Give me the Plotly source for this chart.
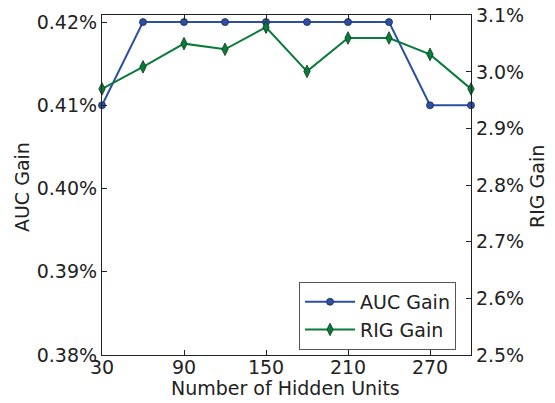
import plotly.graph_objects as go

hidden_units = [30, 60, 90, 120, 150, 180, 210, 240, 270, 300]
auc_gain = [0.41, 0.42, 0.42, 0.42, 0.42, 0.42, 0.42, 0.42, 0.41, 0.41]
rig_gain = [2.970, 3.009, 3.050, 3.040, 3.079, 3.001, 3.060, 3.060, 3.031, 2.970]

x_ticks = [30, 90, 150, 210, 270]
auc_ticks = [0.38, 0.39, 0.40, 0.41, 0.42]
auc_tick_labels = ["0.38%", "0.39%", "0.40%", "0.41%", "0.42%"]
rig_ticks = [2.5, 2.6, 2.7, 2.8, 2.9, 3.0, 3.1]
rig_tick_labels = ["2.5%", "2.6%", "2.7%", "2.8%", "2.9%", "3.0%", "3.1%"]

blue = "#2c4fa3"
green = "#0a7b3b"
font = "DejaVu Sans, Verdana, sans-serif"
fs = 19

fig = go.Figure()
fig.add_trace(go.Scatter(
    x=hidden_units, y=auc_gain, name="AUC Gain", mode="lines+markers",
    line=dict(color=blue, width=2),
    marker=dict(symbol="circle", size=7, color=blue, line=dict(color="#1a2a50", width=0.8)),
    yaxis="y", cliponaxis=False))
fig.add_trace(go.Scatter(
    x=hidden_units, y=rig_gain, name="RIG Gain", mode="lines+markers",
    line=dict(color=green, width=2),
    marker=dict(symbol="diamond-tall", size=9, color=green, line=dict(color="#0a3a1a", width=0.8)),
    yaxis="y2", cliponaxis=False))

axis_common = dict(showline=True, linecolor="#222", linewidth=1.2, ticks="inside",
                   ticklen=5, tickcolor="#222", showgrid=False, zeroline=False,
                   automargin=False, ticklabeloverflow="allow",
                   tickfont=dict(size=fs, color="#222", family=font))

# page body has an 8px margin, so the figure is sized/offset to compensate
fig.update_layout(
    width=547, height=395,
    margin=dict(l=94, r=84, t=7, b=48),
    paper_bgcolor="white", plot_bgcolor="white",
    font=dict(family=font, color="#222"),
    showlegend=True,
    legend=dict(x=0.534, y=0.215, xanchor="left", yanchor="top",
                bordercolor="#555", borderwidth=1, bgcolor="white",
                font=dict(size=fs, family=font, color="#222"),
                itemwidth=50, tracegroupgap=2),
    xaxis=dict(range=[30, 300], tickmode="array", tickvals=x_ticks, mirror="ticks",
               ticklabelstandoff=-5, **axis_common),
    yaxis=dict(range=[0.38, 0.42085], tickmode="array", tickvals=auc_ticks, ticktext=auc_tick_labels,
               **axis_common),
    yaxis2=dict(range=[2.5, 3.1006], tickmode="array", tickvals=rig_ticks, ticktext=rig_tick_labels,
                overlaying="y", side="right",
                **axis_common),
    annotations=[
        dict(text="Number of Hidden Units", xref="paper", yref="paper", x=0.4986, y=-0.097,
             xanchor="center", yanchor="middle", showarrow=False,
             font=dict(size=fs, family=font, color="#222")),
        dict(text="AUC Gain", xref="paper", yref="paper", x=-0.2168, y=0.494, textangle=-90,
             xanchor="center", yanchor="middle", showarrow=False,
             font=dict(size=fs, family=font, color="#222")),
        dict(text="RIG Gain", xref="paper", yref="paper", x=1.1789, y=0.494, textangle=-90,
             xanchor="center", yanchor="middle", showarrow=False,
             font=dict(size=fs, family=font, color="#222")),
    ],
)

fig.write_html("out.html")
